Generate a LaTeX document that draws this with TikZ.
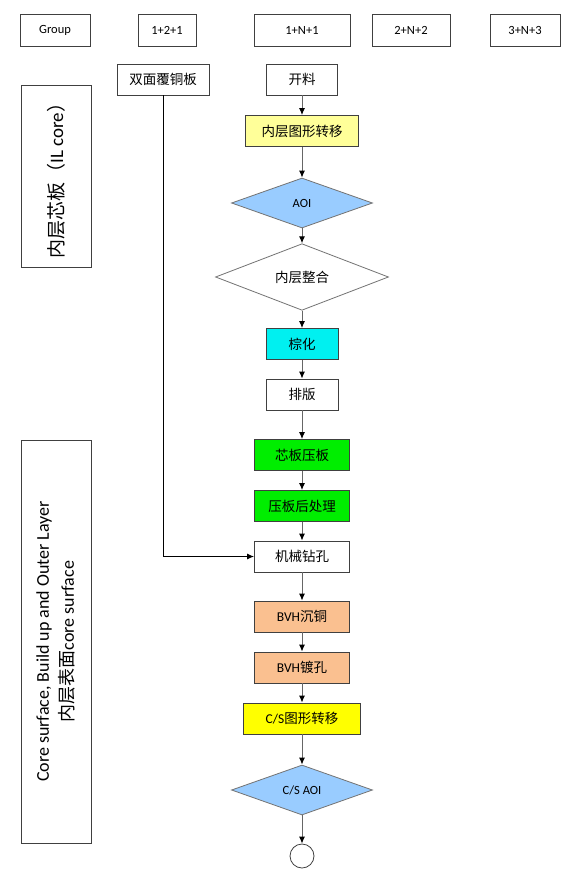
\documentclass[tikz,border=0pt]{standalone}
\usepackage{fontspec}
\setmainfont{Carlito}
\newfontfamily\zh{Noto Sans CJK SC}
\usetikzlibrary{shapes.geometric,arrows.meta}

\definecolor{paleyellow}{HTML}{FFFF99}
\definecolor{aoiblue}{HTML}{99CCFF}
\definecolor{browncyan}{HTML}{00F0F0}
\definecolor{pressgreen}{HTML}{00EE00}
\definecolor{bvhpeach}{HTML}{FAC090}
\definecolor{csyellow}{HTML}{FFFF00}

\tikzset{
  head/.style={draw=black!75, line width=0.8pt, minimum height=32pt, inner sep=2pt,
    font=\fontsize{12.5}{14}\selectfont},
  stage/.style={draw=black!75, line width=0.8pt, minimum height=70pt, inner sep=2pt,
    align=center, rotate=90},
  box/.style={draw=black!75, line width=0.8pt, minimum height=31pt, inner sep=2pt,
    font=\fontsize{13.5}{15}\selectfont},
  decision/.style={diamond, draw=black!55, line width=0.8pt, inner sep=0pt,
    font=\fontsize{12.5}{14}\selectfont},
  flow/.style={draw=black!60, line width=1pt, -{Latex[length=7pt,width=6pt,black]}},
}

\begin{document}
\begin{tikzpicture}[x=1pt,y=-1pt]
\useasboundingbox[fill=white] (0,0) rectangle (576,877);

% --- HEADER ROW ---
\foreach \name/\cx/\w/\txt in {grp/55/70/Group, g121/167/58/1+2+1, g1n1/302/96/1+N+1,
  g2n2/411/78/2+N+2, g3n3/525/70/3+N+3}
  \node[head, minimum width=\w pt] (\name) at (\cx,30) {\txt};

% --- STAGES ON THE LEFT ---
\node[stage, minimum width=182pt, font=\fontsize{19}{21}\selectfont] (ilcore) at (56,176)
  {{\zh 内层芯板（}IL core{\zh ）}};
\node[stage, minimum width=403pt, font=\fontsize{18}{25}\selectfont] (coresurf) at (56,641.5)
  {Core surface, Build up and Outer Layer\\{\zh 内层表面}core surface};

% --- MAIN FLOW ---
\node[box, minimum width=92pt] (fumian) at (163,79.5) {\zh 双面覆铜板};
\node[box, minimum width=71pt] (kailiao) at (302,79.5) {\zh 开料};
\node[box, minimum width=113pt, fill=paleyellow] (neiceng) at (302,131) {\zh 内层图形转移};
\node[decision, fill=aoiblue, minimum width=141pt, minimum height=50pt] (aoi) at (302,203) {AOI};
\node[decision, fill=white, minimum width=173pt, minimum height=62pt,
  font=\fontsize{13.5}{15}\selectfont] (zhenghe) at (302,277) {\zh 内层整合};
\node[box, minimum width=72pt, fill=browncyan] (zonghua) at (302,344) {\zh 棕化};
\node[box, minimum width=72pt] (paiban) at (302,394.5) {\zh 排版};
\node[box, minimum width=95pt, fill=pressgreen] (yaban) at (302,455) {\zh 芯板压板};
\node[box, minimum width=95pt, fill=pressgreen] (houchuli) at (302,506) {\zh 压板后处理};
\node[box, minimum width=95pt] (zuankong) at (302,556.5) {\zh 机械钻孔};
\node[box, minimum width=95pt, fill=bvhpeach] (chentong) at (302,616.5) {BVH{\zh 沉铜}};
\node[box, minimum width=95pt, fill=bvhpeach] (dukong) at (302,667.5) {BVH{\zh 镀孔}};
\node[box, minimum width=117pt, fill=csyellow] (cstuxing) at (302,718.5) {C/S{\zh 图形转移}};
\node[decision, fill=aoiblue, minimum width=141pt, minimum height=50pt] (csaoi) at (302,790) {C/S AOI};
\node[circle, draw=black!75, line width=0.8pt, minimum size=24pt, inner sep=0pt] (ende) at (302,856) {};

% --- CONNECTORS ---
\foreach \a/\b in {kailiao/neiceng, neiceng/aoi, aoi/zhenghe, zhenghe/zonghua, zonghua/paiban,
  paiban/yaban, yaban/houchuli, houchuli/zuankong, zuankong/chentong, chentong/dukong,
  dukong/cstuxing, cstuxing/csaoi, csaoi/ende}
  \draw[flow] (\a) -- (\b);
\draw[flow, draw=black] (fumian.south) |- (zuankong.west);

\end{tikzpicture}
\end{document}
